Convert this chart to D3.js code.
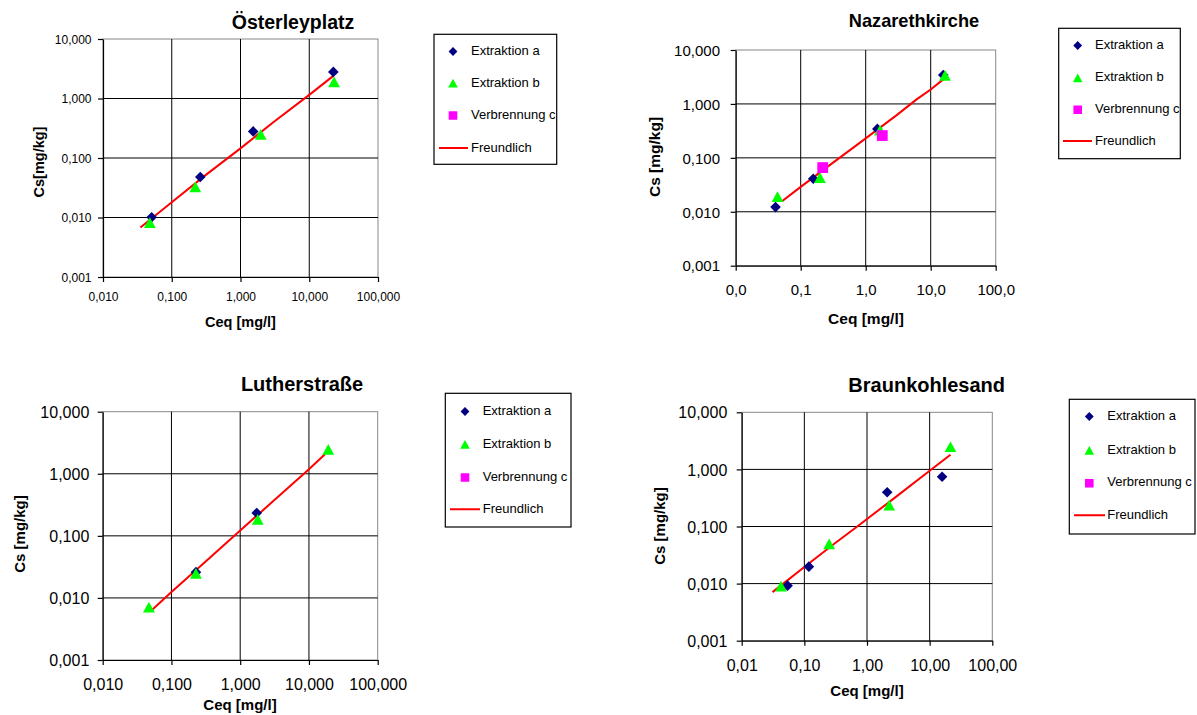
<!DOCTYPE html>
<html>
<head>
<meta charset="utf-8">
<script src="https://cdn.jsdelivr.net/npm/d3@7"></script>
<style>
  body { margin: 0; background: #fff; }
  svg { display: block; }
  text { font-family: "Liberation Sans", Arial, Helvetica, sans-serif; fill: #000; }
</style>
</head>
<body>
<svg id="chart" width="1197" height="715"></svg>
<script>
// ---- shared axis definitions ----
const ceqTicks = [0.01, 0.1, 1, 10, 100];
const csTicks = [0.001, 0.01, 0.1, 1, 10];
const ceqDecimals = [3, 1, 3, 2];       // decimals shown on each panel's Ceq axis
const csDecimals = 3;
const seriesNames = ["Extraktion a", "Extraktion b", "Verbrennung c", "Freundlich"];
const chartTitles = ["Österleyplatz", "Nazarethkirche", "Lutherstraße", "Braunkohlesand"];
const csTitles = ["Cs[mg/kg]", "Cs [mg/kg]", "Cs [mg/kg]", "Cs [mg/kg]"];
const ceqTitle = "Ceq [mg/l]";

// ---- measurements: [Ceq mg/l, Cs mg/kg] ----
// Österleyplatz
const oesterleyExtA = [[0.051, 0.0101], [0.26, 0.048], [1.53, 0.28], [22.4, 2.8]];
const oesterleyExtB = [[0.048, 0.008], [0.22, 0.032], [1.97, 0.245], [23, 1.87]];
const oesterleyVerbC = [];
const oesterleyFreundlich = [[0.035, 0.0068], [0.1, 0.018], [0.3, 0.05], [1, 0.145], [3, 0.4], [10, 1.15], [22.4, 2.4]];

// Nazarethkirche
const nazarethExtA = [[0.041, 0.0122], [0.156, 0.041], [1.51, 0.344], [15.6, 3.44]];
const nazarethExtB = [[0.044, 0.0187], [0.198, 0.042], [1.66, 0.32], [16.6, 3.3]];
const nazarethVerbC = [[0.218, 0.066], [1.8, 0.259]];
const nazarethFreundlich = [[0.051, 0.0155], [0.1, 0.029], [0.3, 0.078], [0.6, 0.145], [1, 0.23], [3, 0.62], [6, 1.2], [10, 1.85], [15.6, 2.85]];

// Lutherstraße
const lutherExtA = [[0.227, 0.026], [1.74, 0.234]];
const lutherExtB = [[0.047, 0.007], [0.227, 0.0243], [1.8, 0.18], [19.1, 2.42]];
const lutherVerbC = [];
const lutherFreundlich = [[0.052, 0.0064], [0.1, 0.0125], [0.3, 0.037], [1, 0.122], [3, 0.36], [10, 1.18], [17.1, 2.06]];

// Braunkohlesand
const braunkohleExtA = [[0.054, 0.0092], [0.118, 0.0198], [2.1, 0.397], [15.8, 0.745]];
const braunkohleExtB = [[0.0424, 0.0088], [0.249, 0.0488], [2.26, 0.231], [21.5, 2.44]];
const braunkohleVerbC = [];
const braunkohleFreundlich = [[0.031, 0.0071], [0.1, 0.0195], [0.3, 0.05], [0.7, 0.1], [1, 0.135], [3, 0.34], [10, 0.95], [21.5, 1.8]];

// ---- panel layout ----
const panels = [
  { title: chartTitles[0], csTitle: csTitles[0], xDec: ceqDecimals[0],
    a: oesterleyExtA, b: oesterleyExtB, c: oesterleyVerbC, fit: oesterleyFreundlich,
    left: 103, right: 378, top: 39, bottom: 277,
    tickFont: 12, titleFont: 19.5, axisFont: 14.5,
    titleX: 293, titleY: 22, xLabelY: 296.5, yLabelRight: 91.5,
    xTitleX: 240.5, xTitleY: 321.5, yTitleX: 39, yTitleY: 162,
    legend: { x0: 434, y0: 34.3, x1: 556.7, y1: 164.3, ys: [50, 82, 114, 147], mx: 453, lx0: 439, lx1: 468, tx: 471 } },
  { title: chartTitles[1], csTitle: csTitles[1], xDec: ceqDecimals[1],
    a: nazarethExtA, b: nazarethExtB, c: nazarethVerbC, fit: nazarethFreundlich,
    left: 735.7, right: 995.7, top: 50, bottom: 265.7,
    tickFont: 15, titleFont: 18.2, axisFont: 15.5,
    titleX: 914, titleY: 21, xLabelY: 290, yLabelRight: 720,
    xTitleX: 866, xTitleY: 318.3, yTitleX: 655, yTitleY: 157,
    legend: { x0: 1058.7, y0: 28.3, x1: 1180.3, y1: 158.7, ys: [44, 76.7, 108.3, 140], mx: 1077.7, lx0: 1063, lx1: 1092, tx: 1095 } },
  { title: chartTitles[2], csTitle: csTitles[2], xDec: ceqDecimals[2],
    a: lutherExtA, b: lutherExtB, c: lutherVerbC, fit: lutherFreundlich,
    left: 102.7, right: 377.7, top: 411.7, bottom: 660,
    tickFont: 16, titleFont: 20, axisFont: 15,
    titleX: 302, titleY: 384, xLabelY: 684, yLabelRight: 89.3,
    xTitleX: 240, xTitleY: 705, yTitleX: 20, yTitleY: 534,
    legend: { x0: 445.3, y0: 393.3, x1: 571, y1: 527, ys: [410, 443.3, 476, 508.3], mx: 465, lx0: 450, lx1: 480, tx: 482.7 } },
  { title: chartTitles[3], csTitle: csTitles[3], xDec: ceqDecimals[3],
    a: braunkohleExtA, b: braunkohleExtB, c: braunkohleVerbC, fit: braunkohleFreundlich,
    left: 741.7, right: 992.3, top: 412.3, bottom: 640.7,
    tickFont: 16, titleFont: 20, axisFont: 15,
    titleX: 926.7, titleY: 385, xLabelY: 665, yLabelRight: 727.3,
    xTitleX: 867, xTitleY: 691, yTitleX: 659.3, yTitleY: 526,
    legend: { x0: 1069.3, y0: 399.3, x1: 1195, y1: 534, ys: [415, 449.3, 481.7, 514.3], mx: 1089.3, lx0: 1074, lx1: 1105, tx: 1107.3 } }
];

// ---- marker shapes ----
const diamond = r => `M0,${-r}L${r},0L0,${r}L${-r},0Z`;
const triangle = r => `M0,${-r}L${r},${r * 0.82}L${-r},${r * 0.82}Z`;
const square = r => `M${-r},${-r}H${r}V${r}H${-r}Z`;
const styles = [
  { shape: diamond, r: 5.3, lr: 4.4, fill: "#000080" },
  { shape: triangle, r: 5.9, lr: 4.8, fill: "#00FF00" },
  { shape: square, r: 5.4, lr: 4.3, fill: "#FF00FF" }
];

const de = d3.formatLocale({ decimal: ",", thousands: ".", grouping: [3], currency: ["", "€"] });
const svg = d3.select("#chart");
const defs = svg.append("defs");

panels.forEach((p, i) => {
  const x = d3.scaleLog().domain([ceqTicks[0], ceqTicks[ceqTicks.length - 1]]).range([p.left, p.right]);
  const y = d3.scaleLog().domain([csTicks[0], csTicks[csTicks.length - 1]]).range([p.bottom, p.top]);
  const g = svg.append("g");

  // plot area
  g.append("rect").attr("x", p.left).attr("y", p.top)
    .attr("width", p.right - p.left).attr("height", p.bottom - p.top)
    .attr("fill", "#fff").attr("stroke", "#888").attr("stroke-width", 1);

  // major gridlines
  g.append("g").selectAll("line").data(ceqTicks.slice(1, -1)).join("line")
    .attr("x1", d => x(d)).attr("x2", d => x(d))
    .attr("y1", p.top).attr("y2", p.bottom)
    .attr("stroke", "#000").attr("stroke-width", 1);
  g.append("g").selectAll("line").data(csTicks.slice(1, -1)).join("line")
    .attr("x1", p.left).attr("x2", p.right)
    .attr("y1", d => y(d)).attr("y2", d => y(d))
    .attr("stroke", "#000").attr("stroke-width", 1);

  // axes
  const xAxis = g.append("g").attr("transform", `translate(0,${p.bottom})`)
    .call(d3.axisBottom(x).tickValues(ceqTicks).tickFormat(de.format(`.${p.xDec}f`)).tickSize(5).tickSizeOuter(0));
  xAxis.selectAll(".tick text")
    .attr("y", p.xLabelY - p.bottom).attr("dy", "0.35em")
    .style("font-size", p.tickFont + "px").style("font-family", "Liberation Sans, Arial, sans-serif");
  const yAxis = g.append("g").attr("transform", `translate(${p.left},0)`)
    .call(d3.axisLeft(y).tickValues(csTicks).tickFormat(de.format(`.${csDecimals}f`)).tickSize(5).tickSizeOuter(0));
  yAxis.selectAll(".tick text")
    .attr("x", p.yLabelRight - p.left).attr("dy", "0.35em")
    .style("font-size", p.tickFont + "px").style("font-family", "Liberation Sans, Arial, sans-serif");
  [xAxis, yAxis].forEach(ax => {
    ax.select(".domain").attr("stroke", "#000").attr("stroke-width", 1.2);
    ax.selectAll(".tick line").attr("stroke", "#000").attr("stroke-width", 1.2);
  });

  // titles
  g.append("text").attr("x", p.titleX).attr("y", p.titleY).attr("dy", "0.35em")
    .attr("text-anchor", "middle").style("font-weight", "bold").style("font-size", p.titleFont + "px")
    .text(p.title);
  g.append("text").attr("x", p.xTitleX).attr("y", p.xTitleY).attr("dy", "0.35em")
    .attr("text-anchor", "middle").style("font-weight", "bold").style("font-size", p.axisFont + "px")
    .text(ceqTitle);
  g.append("text").attr("transform", `translate(${p.yTitleX},${p.yTitleY}) rotate(-90)`).attr("dy", "0.35em")
    .attr("text-anchor", "middle").style("font-weight", "bold").style("font-size", p.axisFont + "px")
    .text(p.csTitle);

  // Freundlich fit
  g.append("path").datum(p.fit)
    .attr("d", d3.line().x(d => x(d[0])).y(d => y(d[1])))
    .attr("fill", "none").attr("stroke", "#FF0000").attr("stroke-width", 2);

  // measured points
  [p.a, p.b, p.c].forEach((data, k) => {
    const s = styles[k];
    g.append("g").selectAll("path").data(data).join("path")
      .attr("transform", d => `translate(${x(d[0])},${y(d[1])})`)
      .attr("d", s.shape(s.r)).attr("fill", s.fill);
  });

  // legend
  const L = p.legend;
  const clipId = `legclip${i}`;
  defs.append("clipPath").attr("id", clipId).append("rect")
    .attr("x", L.x0).attr("y", L.y0).attr("width", L.x1 - L.x0).attr("height", L.y1 - L.y0);
  const lg = svg.append("g");
  lg.append("rect").attr("x", L.x0).attr("y", L.y0).attr("width", L.x1 - L.x0).attr("height", L.y1 - L.y0)
    .attr("fill", "#fff");
  const items = lg.append("g").attr("clip-path", `url(#${clipId})`);
  seriesNames.forEach((name, k) => {
    const yy = L.ys[k];
    if (k < 3) {
      const s = styles[k];
      items.append("path").attr("transform", `translate(${L.mx},${yy + 1.5})`)
        .attr("d", s.shape(s.lr)).attr("fill", s.fill);
    } else {
      items.append("line").attr("x1", L.lx0).attr("x2", L.lx1)
        .attr("y1", yy + 1).attr("y2", yy + 1)
        .attr("stroke", "#FF0000").attr("stroke-width", 2);
    }
    items.append("text").attr("x", L.tx).attr("y", yy).attr("dy", "0.35em")
      .style("font-size", "13px").text(name);
  });
  lg.append("rect").attr("x", L.x0).attr("y", L.y0).attr("width", L.x1 - L.x0).attr("height", L.y1 - L.y0)
    .attr("fill", "none").attr("stroke", "#000").attr("stroke-width", 1.2);
});
</script>
</body>
</html>
